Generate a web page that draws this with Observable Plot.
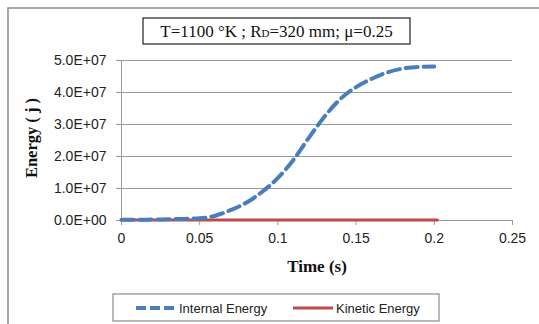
<!DOCTYPE html>
<html><head><meta charset="utf-8">
<script src="https://cdn.jsdelivr.net/npm/d3@7"></script>
<script src="https://cdn.jsdelivr.net/npm/@observablehq/plot@0.6"></script>
<style>
html,body{margin:0;padding:0;background:#fff;}
#wrap{position:relative;width:539px;height:324px;overflow:hidden;}
</style></head><body><div id="wrap"></div>
<script>
const times = [0, 0.01, 0.02, 0.03, 0.04, 0.05, 0.06, 0.07, 0.08, 0.09, 0.1, 0.11, 0.12, 0.13, 0.14, 0.15, 0.16, 0.17, 0.18, 0.19, 0.2];
const internalEnergy = [2e5, 2e5, 3e5, 4e5, 5e5, 7e5, 1.5e6, 3.3e6, 5.6e6, 9.0e6, 1.33e7, 1.9e7, 2.6e7, 3.26e7, 3.8e7, 4.17e7, 4.43e7, 4.63e7, 4.75e7, 4.8e7, 4.81e7];
const kineticTimes = [0, 0.05, 0.1, 0.15, 0.2, 0.202];
const kineticEnergy = [1.5e5, 1.5e5, 1.5e5, 1.5e5, 1.5e5, 1.5e5];
const xTicks = [0, 0.05, 0.1, 0.15, 0.2, 0.25];
const yTicks = [0, 1e7, 2e7, 3e7, 4e7, 5e7];
const seriesNames = ["Internal Energy", "Kinetic Energy"];
const xLabel = "Time (s)";
const yLabel = "Energy ( j )";

const internal = times.map((t, i) => ({t, e: internalEnergy[i]}));
const kinetic = kineticTimes.map((t, i) => ({t, e: kineticEnergy[i]}));

function fmt(d) {
  if (d === 0) return "0.0E+00";
  const exp = Math.floor(Math.log10(d));
  const m = d / Math.pow(10, exp);
  return m.toFixed(1) + "E+" + String(exp).padStart(2, "0");
}

const grid = "#9a9a9a";
const plot = Plot.plot({
  width: 539, height: 324,
  marginLeft: 121, marginRight: 27, marginTop: 60, marginBottom: 104,
  style: {fontFamily: "'Liberation Sans', Arial, sans-serif", fontSize: "14px", color: "#222", background: "transparent", overflow: "visible"},
  x: {domain: [0, 0.25]},
  y: {domain: [0, 5e7]},
  marks: [
    Plot.ruleY(yTicks.slice(1), {stroke: grid, strokeWidth: 1}),
    Plot.ruleX([0], {stroke: grid}),
    Plot.ruleY([0], {stroke: grid}),
    Plot.axisY({ticks: yTicks, tickFormat: fmt, tickSize: 5, tickPadding: 10, stroke: grid, fill: "#222", label: null}),
    Plot.axisX({ticks: xTicks, tickFormat: d => String(d), tickSize: 5, tickPadding: 8, stroke: grid, fill: "#222", label: null}),
    Plot.line(kinetic, {x: "t", y: "e", stroke: "#be4b48", strokeWidth: 3}),
    Plot.line(internal, {x: "t", y: "e", stroke: "#4a7ebb", strokeWidth: 4, strokeDasharray: "12,6", curve: "monotone-x"})
  ]
});
document.getElementById("wrap").appendChild(plot);

const svg = d3.select(plot);
const serif = "'Liberation Serif', 'Times New Roman', serif";
const sans = "'Liberation Sans', Arial, sans-serif";
svg.append("path").attr("d", "M8,324V8H539").attr("fill", "none").attr("stroke", "#8a8a8a").attr("stroke-width", 1.5);

// title box
svg.append("rect").attr("x", 143).attr("y", 18).attr("width", 267).attr("height", 26)
  .attr("fill", "#fff").attr("stroke", "#222").attr("stroke-width", 1.2);
const title = svg.append("text").attr("x", 276.5).attr("y", 37).attr("text-anchor", "middle")
  .attr("font-family", serif).attr("font-size", 17).attr("fill", "#111");
title.append("tspan").text("T=1100 °K ; R");
title.append("tspan").attr("font-size", 11).text("D");
title.append("tspan").text("=320 mm; μ=0.25");

// axis labels
svg.append("text").attr("transform", "translate(37,138) rotate(-90)").attr("text-anchor", "middle")
  .attr("font-family", serif).attr("font-weight", "bold").attr("font-size", 16.5).attr("fill", "#111").text(yLabel);
svg.append("text").attr("x", 317).attr("y", 272).attr("text-anchor", "middle")
  .attr("font-family", serif).attr("font-weight", "bold").attr("font-size", 17).attr("fill", "#111").text(xLabel);

// legend
svg.append("rect").attr("x", 113).attr("y", 294).attr("width", 326).attr("height", 27)
  .attr("fill", "#fff").attr("stroke", "#8a8a8a").attr("stroke-width", 1.2);
svg.append("line").attr("x1", 136).attr("x2", 178).attr("y1", 308).attr("y2", 308)
  .attr("stroke", "#4a7ebb").attr("stroke-width", 4).attr("stroke-dasharray", "10,4");
svg.append("text").attr("x", 179).attr("y", 312.5).attr("text-anchor", "start").attr("font-family", sans)
  .attr("font-size", 13).attr("fill", "#222").text(seriesNames[0]);
svg.append("line").attr("x1", 293).attr("x2", 333).attr("y1", 308).attr("y2", 308)
  .attr("stroke", "#be4b48").attr("stroke-width", 3);
svg.append("text").attr("x", 336).attr("y", 312.5).attr("text-anchor", "start").attr("font-family", sans)
  .attr("font-size", 13).attr("fill", "#222").text(seriesNames[1]);
</script></body></html>
